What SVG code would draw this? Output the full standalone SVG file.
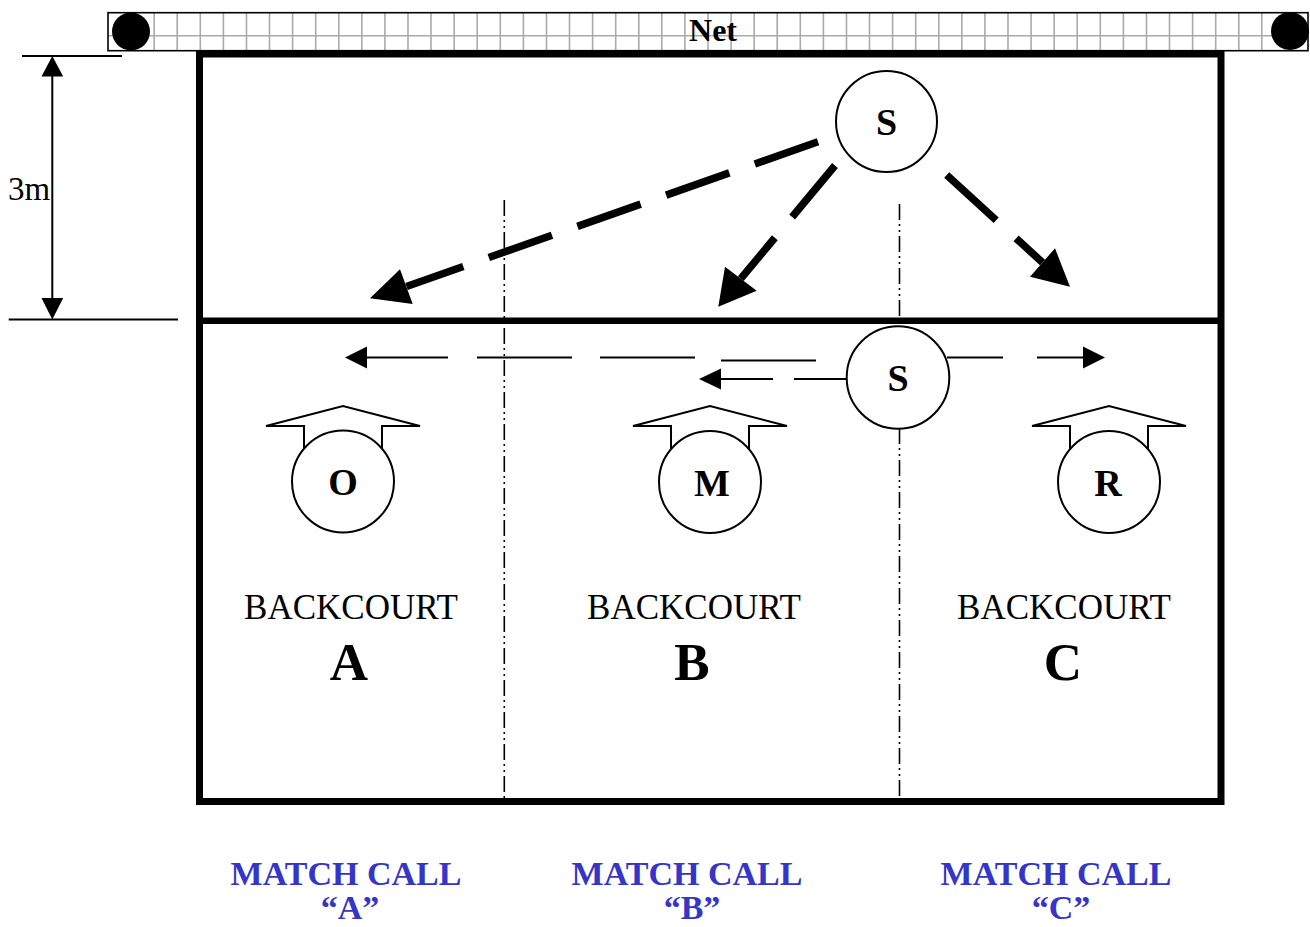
<svg xmlns="http://www.w3.org/2000/svg" width="1310" height="927" viewBox="0 0 1310 927">
  <style>
    .thin { stroke: #000; stroke-width: 2; fill: none; }
    .grid { stroke: #aaaaaa; stroke-width: 1.6; fill: none; }
    .court { stroke: #000; stroke-width: 7; fill: none; }
    .zone { stroke: #000; stroke-width: 1.6; fill: none; stroke-dasharray: 16 4 2 4 2 4; }
    .run { stroke: #000; stroke-width: 7.5; fill: none; stroke-dasharray: 67 27; }
    .player { fill: #fff; stroke: #000; stroke-width: 2; }
    .head { fill: #000; stroke: none; }
    .pl { font-family: "Liberation Serif", "Times New Roman", serif; font-weight: bold; font-size: 38px; text-anchor: middle; }
    .bc { font-family: "Liberation Serif", "Times New Roman", serif; font-size: 35px; text-anchor: middle; }
    .zl { font-family: "Liberation Serif", "Times New Roman", serif; font-weight: bold; font-size: 53px; text-anchor: middle; }
    .call { font-family: "Liberation Serif", "Times New Roman", serif; font-weight: bold; font-size: 34px; text-anchor: middle; fill: #3535c8; }
  </style>

  <!-- net -->
  <g id="net">
    <rect x="108" y="12.7" width="1200" height="38" fill="#fff" stroke="none"/>
    <path class="grid" d="M108 35.7H1308
      M131.1 12.7V51 M154.2 12.7V51 M177.2 12.7V51 M200.3 12.7V51 M223.4 12.7V51 M246.5 12.7V51
      M269.5 12.7V51 M292.6 12.7V51 M315.7 12.7V51 M338.8 12.7V51 M361.8 12.7V51 M384.9 12.7V51
      M408 12.7V51 M431 12.7V51 M454.2 12.7V51 M477.2 12.7V51 M500.3 12.7V51 M523.4 12.7V51
      M546.5 12.7V51 M569.5 12.7V51 M592.6 12.7V51 M615.7 12.7V51 M638.8 12.7V51 M661.8 12.7V51
      M684.9 12.7V51 M708 12.7V51 M731.1 12.7V51 M754.2 12.7V51 M777.2 12.7V51 M800.3 12.7V51
      M823.4 12.7V51 M846.5 12.7V51 M869.5 12.7V51 M892.6 12.7V51 M915.7 12.7V51 M938.8 12.7V51
      M961.8 12.7V51 M984.9 12.7V51 M1008 12.7V51 M1031.1 12.7V51 M1054.2 12.7V51 M1077.2 12.7V51
      M1100.3 12.7V51 M1123.4 12.7V51 M1146.5 12.7V51 M1169.5 12.7V51 M1192.6 12.7V51 M1215.7 12.7V51
      M1238.8 12.7V51 M1261.8 12.7V51 M1284.9 12.7V51"/>
    <rect x="108" y="12.7" width="1200" height="38" fill="none" stroke="#000" stroke-width="1.6"/>
    <circle cx="131" cy="31.5" r="19" fill="#000"/>
    <circle cx="1290" cy="31" r="19" fill="#000"/>
    <text x="713" y="41" font-family="Liberation Serif, Times New Roman, serif" font-weight="bold" font-size="32" text-anchor="middle">Net</text>
  </g>

  <!-- court outline and attack line -->
  <g id="court">
    <rect class="court" x="199.5" y="54" width="1021.5" height="747.5"/>
    <line x1="199.5" y1="320.8" x2="1221" y2="320.8" stroke="#000" stroke-width="6.5"/>
  </g>

  <!-- 3 m dimension -->
  <g id="dimension">
    <line class="thin" x1="22" y1="56" x2="122" y2="56" stroke-width="1.6"/>
    <line class="thin" x1="8.7" y1="319.5" x2="178" y2="319.5" stroke-width="1.6"/>
    <line class="thin" x1="52.3" y1="74" x2="52.3" y2="300" stroke-width="1.8"/>
    <polygon class="head" points="52.3,56 41.5,76.5 63.2,76.5"/>
    <polygon class="head" points="52.3,319.5 41.5,298 63.2,298"/>
    <text x="8" y="200" font-family="Liberation Serif, Times New Roman, serif" font-size="33">3m</text>
  </g>

  <!-- backcourt zone dividers -->
  <g id="zones">
    <line class="zone" x1="504.3" y1="200" x2="504.3" y2="799"/>
    <line class="zone" x1="899.5" y1="204" x2="899.5" y2="799"/>
  </g>

  <!-- connectors: setter movement and release paths -->
  <g id="connectors">
    <!-- thin penetration paths -->
    <path class="thin" d="M366 357.5H448 M477 357.5H572 M600 357.5H695 M721 360.5H816"/>
    <polygon class="head" points="345,357.5 367,346.5 367,368.5"/>
    <path class="thin" d="M947 357.5H1003 M1037 357.5H1085"/>
    <polygon class="head" points="1105,357.5 1083,346.5 1083,368.5"/>
    <path class="thin" d="M794 379H847 M720 379H773"/>
    <polygon class="head" points="699,379 721,368.5 721,389.5"/>

    <!-- thick setter paths -->
    <path class="run" d="M818 141.7L406.5 286.5"/>
    <polygon class="head" points="370,298.3 400,269.3 412.7,304"/>
    <path class="run" d="M835 165.5L740.8 278.7"/>
    <polygon class="head" points="718.3,306.7 725,266.7 756.7,290.7"/>
    <path class="run" d="M946.7 175L1042.5 262.5"/>
    <polygon class="head" points="1070,286.7 1030,276.7 1055,248.3"/>
  </g>

  <!-- players -->
  <g id="setter-front">
    <circle class="player" cx="886.5" cy="121.5" r="50.5"/>
    <text class="pl" x="886.5" y="134.5">S</text>
  </g>
  <g id="setter-back">
    <circle class="player" cx="898" cy="377.5" r="51.3"/>
    <text class="pl" x="898" y="391">S</text>
  </g>
  <g id="player-o">
    <polygon class="player" points="304,462 304,426 266,426 343,406 420,426 382,426 382,462"/>
    <circle class="player" cx="343" cy="481.5" r="51"/>
    <text class="pl" x="343" y="495">O</text>
  </g>
  <g id="player-m">
    <polygon class="player" points="671,462 671,426 633,426 710,406 787,426 749,426 749,462"/>
    <circle class="player" cx="710" cy="482" r="51"/>
    <text class="pl" x="712" y="495.5">M</text>
  </g>
  <g id="player-r">
    <polygon class="player" points="1070,462 1070,426 1032,426 1109,406 1186,426 1148,426 1148,462"/>
    <circle class="player" cx="1109" cy="482" r="51"/>
    <text class="pl" x="1108" y="495.5">R</text>
  </g>

  <!-- zone labels -->
  <g id="zone-a">
    <text class="bc" x="351" y="619">BACKCOURT</text>
    <text class="zl" x="349" y="680">A</text>
  </g>
  <g id="zone-b">
    <text class="bc" x="694" y="619">BACKCOURT</text>
    <text class="zl" x="692" y="680">B</text>
  </g>
  <g id="zone-c">
    <text class="bc" x="1064" y="619">BACKCOURT</text>
    <text class="zl" x="1063" y="680">C</text>
  </g>

  <!-- match calls -->
  <g id="call-a">
    <text class="call" x="346" y="885">MATCH CALL</text>
    <text class="call" x="350" y="919">“A”</text>
  </g>
  <g id="call-b">
    <text class="call" x="687" y="885">MATCH CALL</text>
    <text class="call" x="692" y="919">“B”</text>
  </g>
  <g id="call-c">
    <text class="call" x="1056" y="885">MATCH CALL</text>
    <text class="call" x="1061" y="919">“C”</text>
  </g>
</svg>
